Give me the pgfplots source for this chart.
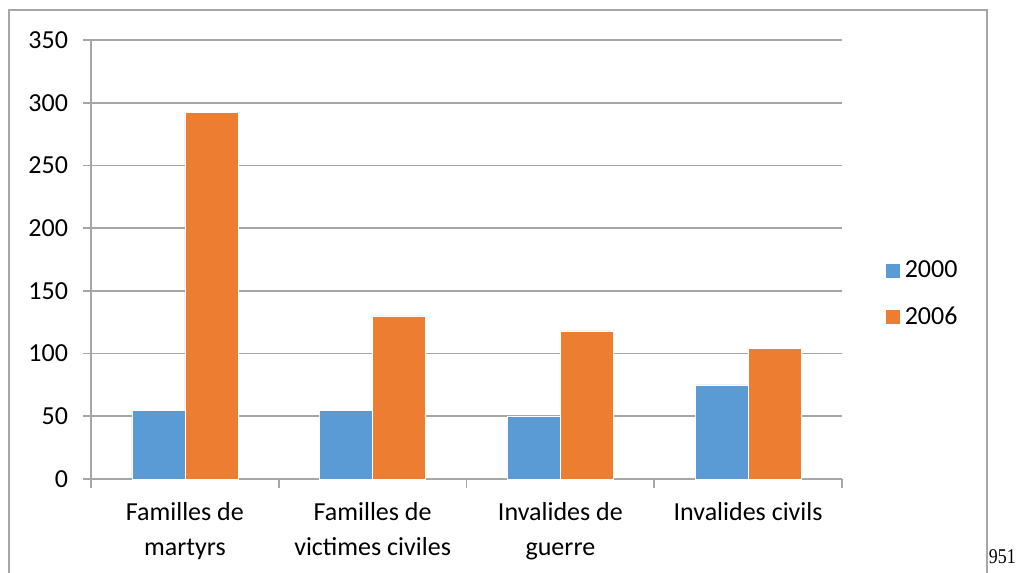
\documentclass[border=0pt]{standalone}
\usepackage{pgfplots}
\pgfplotsset{compat=1.18}
\usepackage{fontspec}
\setmainfont{Carlito}
\newfontfamily\timesf{Liberation Serif}
\definecolor{cblue}{HTML}{5B9BD5}
\definecolor{corange}{HTML}{ED7D31}
\definecolor{gridgray}{HTML}{A6A6A6}
\begin{document}
\begin{tikzpicture}
\useasboundingbox (0,0) rectangle (510.5pt,286pt);
\draw[gridgray, line width=0.8pt] (4.5pt,-10pt) -- (4.5pt,281pt) -- (493.5pt,281pt) -- (493.5pt,-10pt);
\node[anchor=base west, inner sep=0pt, font=\timesf\fontsize{10.5}{12}\selectfont, xscale=0.85, transform shape] at (494.3pt,4.5pt) {951};
\begin{axis}[
  at={(45.5pt,46.5pt)}, anchor=south west,
  scale only axis, width=375.5pt, height=219.5pt,
  xmin=-0.5, xmax=3.5, ymin=0, ymax=350,
  ytick={0,50,...,350},
  xtick={0,1,2,3},
  xticklabels={{Familles de\\martyrs},{Familles de\\victimes civiles},{Invalides de\\guerre},{Invalides civils}},
  minor xtick={-0.5,0.5,1.5,2.5,3.5},
  major x tick style={draw=none},
  minor tick length=4.5pt,
  major tick length=4pt,
  tick align=outside,
  tick style={gridgray, line width=0.8pt},
  axis x line*=bottom, axis y line*=left,
  axis line style={gridgray, line width=0.8pt},
  ymajorgrids, grid style={gridgray, line width=0.8pt},
  font=\fontsize{13}{17.5}\selectfont,
  /pgf/number format/assume math mode=true,
  xticklabel style={align=center, font=\fontsize{13}{17.5}\selectfont, yshift=-4pt},
  yticklabel style={font=\fontsize{13}{17.5}\selectfont, xshift=-4pt},
  ybar, bar width=26.5pt,
  legend style={at={(1.057,0.421)}, anchor=west, draw=none, fill=none, row sep=9pt,
    font=\fontsize{13}{15}\selectfont, inner sep=0pt, nodes={inner sep=2pt}},
  legend cell align=left,
  legend image code/.code={\fill[#1] (0pt,-3.75pt) rectangle (7.5pt,3.75pt);},
]
\addplot[fill=cblue, draw=white, line width=0.3pt, bar shift=-13.25pt] coordinates {(0,55) (1,55) (2,50) (3,75)};
\addplot[fill=corange, draw=white, line width=0.3pt, bar shift=13.25pt] coordinates {(0,292) (1,130) (2,118) (3,104)};
\legend{2000,2006}
\end{axis}
\end{tikzpicture}
\end{document}
